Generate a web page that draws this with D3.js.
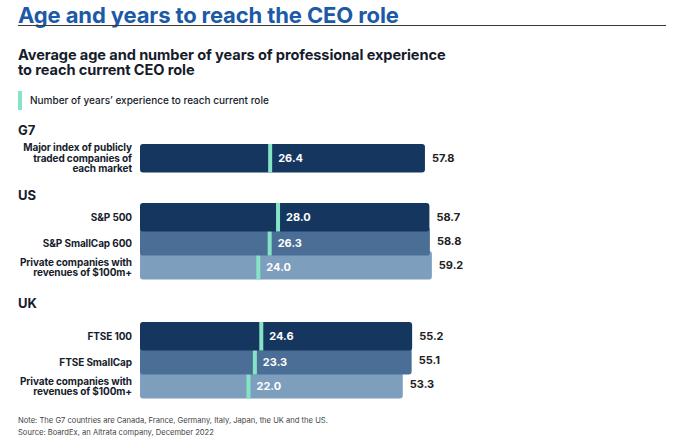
<!DOCTYPE html>
<html>
<head>
<meta charset="utf-8">
<script src="https://cdn.jsdelivr.net/npm/d3@7"></script>
<style>
  body { margin: 0; background: #fff; }
  svg { display: block; font-family: Inter, Roboto, "Noto Sans", sans-serif; }
</style>
</head>
<body>
<div id="chart"></div>
<script>
// chart data
var groups = ["G7", "US", "UK"];
var rowGroup = ["G7", "US", "US", "US", "UK", "UK", "UK"];
var rowLabels = [
    ["Major index of publicly", "traded companies of", "each market"],
    ["S&P 500"],
    ["S&P SmallCap 600"],
    ["Private companies with", "revenues of $100m+"],
    ["FTSE 100"],
    ["FTSE SmallCap"],
    ["Private companies with", "revenues of $100m+"]
];
var avgAge = [57.8, 58.7, 58.8, 59.2, 55.2, 55.1, 53.3];
var yearsExp = [26.4, 28.0, 26.3, 24.0, 24.6, 23.3, 22.0];

var title = "Age and years to reach the CEO role";
var subtitle = ["Average age and number of years of professional experience", "to reach current CEO role"];
var legendLabel = "Number of years\u2019 experience to reach current role";
var notes = ["Note: The G7 countries are Canada, France, Germany, Italy, Japan, the UK and the US.",
             "Source: BoardEx, an Altrata company, December 2022"];

function init() {
    var w = 675;
    var h = 446;
    var svg = d3.select("#chart").append("svg")
                .attr("width", w)
                .attr("height", h);

    var shades = ["#15375f", "#4b6e96", "#7d9ebd"];
    var mint = "#86e4c6";
    var ink = "#161c2c";

    var groupTop = { G7: 144, US: 203, UK: 322 };   // top of first bar in each group
    var headerY = { G7: 135, US: 200, UK: 308 };
    var pitch = 24, barH = 28.5;

    var x = d3.scaleLinear().domain([0, 60]).range([140, 140 + 60 * 4.93]);

    // rows with position inside their group
    var rows = avgAge.map(function(a, i) {
        var g = rowGroup[i];
        var k = rowGroup.slice(0, i).filter(function(d) { return d === g; }).length;
        var top = groupTop[g] + k * pitch;
        return {
            age: a, exp: yearsExp[i], label: rowLabels[i], k: k, top: top,
            mid: top + barH / 2,
            vis: k === 0 ? top + barH / 2 : top + (barH + (barH - pitch)) / 2
        };
    });

    // title + rule
    svg.append("text")
        .attr("x", 18).attr("y", 23)
        .style("font-size", "22px").style("font-weight", 700)
        .style("letter-spacing", "-0.12px")
        .style("fill", "#1b5aa7")
        .text(title);
    svg.append("line")
        .attr("x1", 18).attr("x2", 666)
        .attr("y1", 25.5).attr("y2", 25.5)
        .style("stroke", "#3a3a3a").style("stroke-width", 1);

    svg.selectAll(".sub")
        .data(subtitle)
        .enter().append("text")
        .attr("x", 18).attr("y", function(d, i) { return 59.5 + i * 15; })
        .style("font-size", "14.6px").style("font-weight", 700)
        .style("letter-spacing", "-0.1px")
        .style("fill", ink)
        .text(function(d) { return d; });

    // legend
    svg.append("rect")
        .attr("x", 18).attr("y", 91).attr("width", 4).attr("height", 19)
        .style("fill", mint);
    svg.append("text")
        .attr("x", 30).attr("y", 103.5)
        .style("font-size", "10px").style("font-weight", 500)
        .style("fill", ink)
        .text(legendLabel);

    // group headers
    svg.selectAll(".grp")
        .data(groups)
        .enter().append("text")
        .attr("x", 18).attr("y", function(d) { return headerY[d]; })
        .style("font-size", "13px").style("font-weight", 700)
        .style("fill", ink)
        .text(function(d) { return d; });

    // bars: lower rows first so the upper bar sits over them
    var order = rows.slice().sort(function(a, b) { return b.top - a.top; });
    var bar = svg.selectAll(".row")
        .data(order)
        .enter().append("g");

    bar.append("rect")
        .attr("x", x(0))
        .attr("y", function(d) { return d.top; })
        .attr("width", function(d) { return x(d.age) - x(0); })
        .attr("height", barH)
        .attr("rx", 3)
        .style("fill", function(d) { return shades[d.k]; });

    bar.append("rect")
        .attr("x", function(d) { return x(d.exp) - 2; })
        .attr("y", function(d) { return d.top; })
        .attr("width", 4)
        .attr("height", barH)
        .style("fill", mint);

    bar.append("text")
        .attr("x", function(d) { return x(d.exp) + 8; })
        .attr("y", function(d) { return d.vis; })
        .attr("dy", "0.36em")
        .style("font-size", "11px").style("font-weight", 700)
        .style("fill", "#fff")
        .text(function(d) { return d.exp.toFixed(1); });

    bar.append("text")
        .attr("x", function(d) { return x(d.age) + 7; })
        .attr("y", function(d) { return d.mid; })
        .attr("dy", "0.36em")
        .style("font-size", "11px").style("font-weight", 700)
        .style("fill", "#222")
        .text(function(d) { return d.age.toFixed(1); });

    // row labels, right aligned
    svg.selectAll(".lab")
        .data(rows)
        .enter().append("text")
        .attr("text-anchor", "end")
        .style("font-size", "10px").style("font-weight", 700)
        .style("letter-spacing", "-0.1px")
        .style("fill", ink)
        .each(function(d) {
            var n = d.label.length;
            d3.select(this).selectAll("tspan")
                .data(d.label)
                .enter().append("tspan")
                .attr("x", 132)
                .attr("y", function(s, j) { return d.vis + (j - (n - 1) / 2) * 10.5; })
                .attr("dy", "0.36em")
                .text(function(s) { return s; });
        });

    // footnotes
    svg.selectAll(".note")
        .data(notes)
        .enter().append("text")
        .attr("x", 18).attr("y", function(d, i) { return 423 + i * 12; })
        .style("font-size", "7.6px")
        .style("fill", "#444")
        .text(function(d) { return d; });
}

window.onload = init;
</script>
</body>
</html>
